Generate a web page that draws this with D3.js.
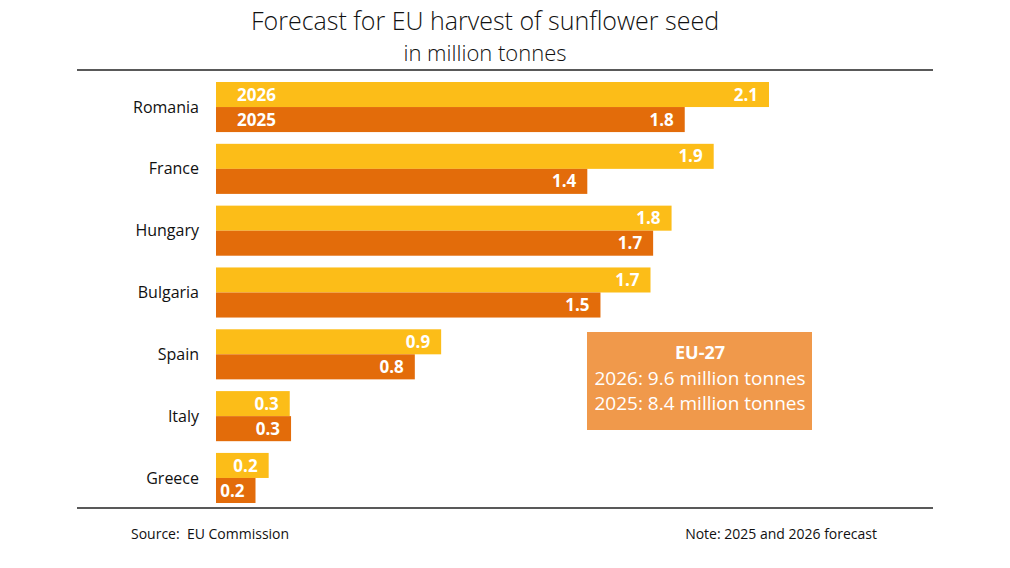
<!DOCTYPE html>
<html>
<head>
<meta charset="utf-8">
<script src="https://cdn.jsdelivr.net/npm/d3@7"></script>
<style>
  body { margin: 0; background: #fff; }
  svg { display: block; font-family: "Open Sans", sans-serif; }
</style>
</head>
<body>
<svg id="chart" width="1010" height="568"></svg>
<script>
// data
const countries = ['Romania', 'France', 'Hungary', 'Bulgaria', 'Spain', 'Italy', 'Greece'];
const years = ['2026', '2025'];
const values2026 = [2.1, 1.89, 1.73, 1.65, 0.855, 0.28, 0.2];
const values2025 = [1.78, 1.41, 1.66, 1.46, 0.755, 0.285, 0.15];
const labels2026 = ['2.1', '1.9', '1.8', '1.7', '0.9', '0.3', '0.2'];
const labels2025 = ['1.8', '1.4', '1.7', '1.5', '0.8', '0.3', '0.2'];
const euTotal = ['2026: 9.6 million tonnes', '2025: 8.4 million tonnes'];

const colors = {'2026': '#fcbd18', '2025': '#e36c0a'};

const svg = d3.select('#chart');

// title
svg.append('text').attr('x', 485).attr('y', 30).attr('text-anchor', 'middle')
  .attr('font-size', 25).attr('font-weight', 300).attr('fill', '#111')
  .text('Forecast for EU harvest of sunflower seed');
svg.append('text').attr('x', 485).attr('y', 61).attr('text-anchor', 'middle')
  .attr('font-size', 22).attr('font-weight', 300).attr('fill', '#111')
  .text('in million tonnes');

svg.append('line').attr('x1', 77).attr('x2', 933).attr('y1', 70).attr('y2', 70)
  .attr('stroke', '#222').attr('stroke-width', 1.5);
svg.append('line').attr('x1', 77).attr('x2', 933).attr('y1', 508).attr('y2', 508)
  .attr('stroke', '#222').attr('stroke-width', 1.5);

const x = d3.scaleLinear().domain([0, 2.1]).range([216, 769]);
const y = d3.scaleBand().domain(countries).range([82, 503]).paddingInner(0.19).paddingOuter(0);
const ySub = d3.scaleBand().domain(years).range([0, y.bandwidth()]);

const rows = countries.map((c, i) => ({
  country: c,
  bars: [
    {year: '2026', v: values2026[i], label: labels2026[i]},
    {year: '2025', v: values2025[i], label: labels2025[i]}
  ]
}));

const g = svg.selectAll('g.row').data(rows).join('g')
  .attr('class', 'row')
  .attr('transform', d => `translate(0,${y(d.country)})`);

g.append('text')
  .attr('x', 199).attr('y', y.bandwidth() / 2).attr('dy', '0.35em')
  .attr('text-anchor', 'end').attr('font-size', 16).attr('fill', '#111')
  .text(d => d.country);

const b = g.selectAll('g.bar').data(d => d.bars).join('g').attr('class', 'bar');
b.append('rect')
  .attr('x', x(0)).attr('y', d => ySub(d.year))
  .attr('width', d => x(d.v) - x(0)).attr('height', ySub.bandwidth())
  .attr('fill', d => colors[d.year]);
b.append('text')
  .attr('x', d => x(d.v) - 11).attr('y', d => ySub(d.year) + ySub.bandwidth() / 2).attr('dy', '0.36em')
  .attr('text-anchor', 'end').attr('font-size', 17).attr('font-weight', 700).attr('fill', '#fff')
  .text(d => d.label);

// year labels inside the first group
svg.selectAll('text.year').data(years).join('text')
  .attr('class', 'year')
  .attr('x', 237).attr('y', d => y(countries[0]) + ySub(d) + ySub.bandwidth() / 2).attr('dy', '0.36em')
  .attr('font-size', 17).attr('font-weight', 700).attr('fill', '#fff')
  .text(d => d);

// EU-27 box
svg.append('rect').attr('x', 587).attr('y', 332).attr('width', 225).attr('height', 98).attr('fill', '#f0994b');
svg.append('text').attr('x', 700).attr('y', 359).attr('text-anchor', 'middle')
  .attr('font-size', 18).attr('font-weight', 700).attr('fill', '#fff').text('EU-27');
svg.selectAll('text.eu').data(euTotal).join('text')
  .attr('class', 'eu')
  .attr('x', 700).attr('y', (d, i) => 385 + i * 25).attr('text-anchor', 'middle')
  .attr('font-size', 19).attr('fill', '#fff').text(d => d);

// footer
svg.append('text').attr('x', 131).attr('y', 539).attr('font-size', 14).attr('fill', '#111')
  .attr('xml:space', 'preserve').text('Source:  EU Commission');
svg.append('text').attr('x', 877).attr('y', 539).attr('text-anchor', 'end').attr('font-size', 14).attr('fill', '#111')
  .text('Note: 2025 and 2026 forecast');
</script>
</body>
</html>
